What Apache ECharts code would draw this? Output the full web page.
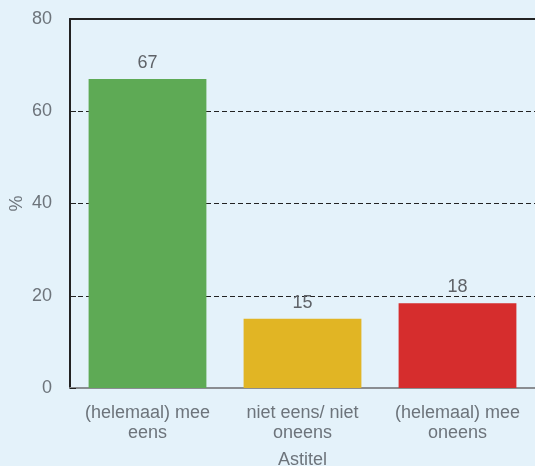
<!DOCTYPE html>
<html>
<head>
<meta charset="utf-8">
<script src="https://cdn.jsdelivr.net/npm/echarts@6/dist/echarts.min.js"></script>
<style>
html,body{margin:0;padding:0;background:#e4f2fa;}
#c{width:535px;height:466px;}
</style>
</head>
<body>
<div id="c"></div>
<script>
var categories = ['(helemaal) mee\neens', 'niet eens/ niet\noneens', '(helemaal) mee\noneens'];
var values = [67, 15, 18.4];
var barColors = ['#5eaa55', '#e1b524', '#d62d2d'];
var yTicks = [0, 20, 40, 60, 80];

var chart = echarts.init(document.getElementById('c'));
var textColor = '#6d747b';
chart.setOption({
  backgroundColor: '#e4f2fa',
  animation: false,
  grid: { left: 70, right: 0, top: 19, bottom: 78, containLabel: false, outerBoundsMode: 'none' },
  xAxis: [{
    type: 'category',
    data: categories,
    name: 'Astitel',
    nameLocation: 'middle',
    nameGap: 63,
    nameMoveOverlap: false,
    nameTextStyle: { fontFamily: 'Liberation Sans', fontSize: 18, color: textColor },
    axisLine: { show: true, lineStyle: { color: '#8a8d91', width: 2 } },
    axisTick: { show: false },
    axisLabel: { fontFamily: 'Liberation Sans', fontSize: 18, lineHeight: 20, color: textColor, margin: 15, interval: 0 }
  }, {
    type: 'category',
    data: categories,
    position: 'top',
    axisLine: { show: true, lineStyle: { color: '#222', width: 2 } },
    axisTick: { show: false },
    axisLabel: { show: false }
  }],
  yAxis: {
    type: 'value',
    min: yTicks[0],
    max: yTicks[yTicks.length - 1],
    interval: 20,
    name: '%',
    nameLocation: 'middle',
    nameRotate: 90,
    nameGap: 44,
    nameMoveOverlap: false,
    nameTextStyle: { fontFamily: 'Liberation Sans', fontSize: 18, color: textColor },
    axisLine: { show: true, lineStyle: { color: '#222', width: 2 } },
    axisTick: { show: true, inside: true, length: 6, lineStyle: { color: '#222', width: 1 } },
    axisLabel: { fontFamily: 'Liberation Sans', fontSize: 18, color: textColor, margin: 18 },
    splitLine: { show: true, lineStyle: { color: '#222', type: [5, 3], width: 1 } }
  },
  series: [{
    type: 'bar',
    xAxisIndex: 0,
    data: values.map(function (v, i) { return { value: v, itemStyle: { color: barColors[i] } }; }),
    barCategoryGap: '24%',
    label: {
      show: true,
      position: 'top',
      distance: 7,
      fontFamily: 'Liberation Sans',
      fontSize: 18,
      color: '#5f6368',
      formatter: function (p) { return Math.round(p.value); }
    }
  }]
});
</script>
</body>
</html>
